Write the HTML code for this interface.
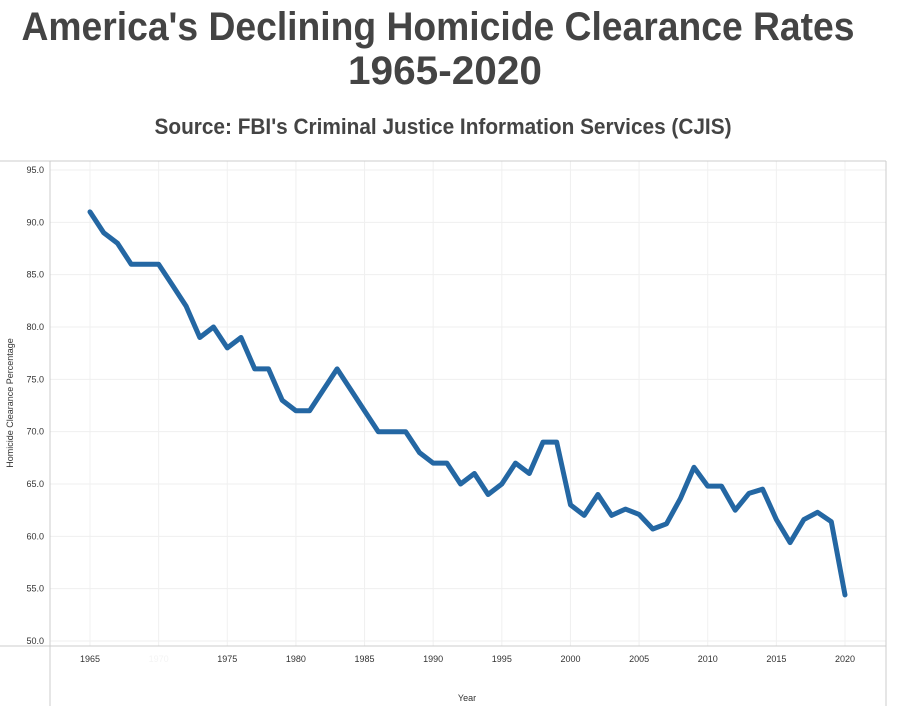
<!DOCTYPE html>
<html><head><meta charset="utf-8"><style>body{margin:0;background:#fff}svg{display:block}</style></head>
<body>
<svg id="chart" width="897" height="715" xmlns="http://www.w3.org/2000/svg" font-family="Liberation Sans, sans-serif">
<text x="438" y="40" text-anchor="middle" font-size="40" font-weight="bold" fill="#444" textLength="833" lengthAdjust="spacingAndGlyphs">America's Declining Homicide Clearance Rates</text>
<text x="445" y="84" text-anchor="middle" font-size="40" font-weight="bold" fill="#444" textLength="194" lengthAdjust="spacingAndGlyphs">1965-2020</text>
<text x="443" y="134" text-anchor="middle" font-size="22" font-weight="bold" fill="#444" textLength="577" lengthAdjust="spacingAndGlyphs">Source: FBI's Criminal Justice Information Services (CJIS)</text>
<g id="grid"></g>
<line x1="0" y1="161" x2="886" y2="161" stroke="#ccc"/>
<line x1="0" y1="646" x2="886" y2="646" stroke="#ccc"/>
<line x1="50" y1="161" x2="50" y2="706" stroke="#ccc"/>
<line x1="886" y1="161" x2="886" y2="706" stroke="#ccc"/>
<text transform="translate(13,403) rotate(-90)" text-anchor="middle" font-size="9" fill="#333">Homicide Clearance Percentage</text>
<text x="467" y="701" text-anchor="middle" font-size="9" fill="#333">Year</text>
<g id="ticks"></g>
<g id="series"></g>
</svg>
<script>
const years=[1965,1966,1967,1968,1969,1970,1971,1972,1973,1974,1975,1976,1977,1978,1979,1980,1981,1982,1983,1984,1985,1986,1987,1988,1989,1990,1991,1992,1993,1994,1995,1996,1997,1998,1999,2000,2001,2002,2003,2004,2005,2006,2007,2008,2009,2010,2011,2012,2013,2014,2015,2016,2017,2018,2019,2020];
const rates=[91,89,88,86,86,86,84,82,79,80,78,79,76,76,73,72,72,74,76,74,72,70,70,70,68,67,67,65,66,64,65,67,66,69,69,63,62,64,62,62.6,62.1,60.7,61.2,63.6,66.6,64.8,64.8,62.5,64.1,64.5,61.6,59.4,61.6,62.3,61.4,54.4];
const yTicks=[50,55,60,65,70,75,80,85,90,95];
const xTicks=[1965,1970,1975,1980,1985,1990,1995,2000,2005,2010,2015,2020];
const NS='http://www.w3.org/2000/svg';
function xs(v){return 90+(v-1965)*(845-90)/55;}
function ys(v){return 641-(v-50)*(641-170)/45;}
function mk(t,a,p){const e=document.createElementNS(NS,t);for(const k in a)e.setAttribute(k,a[k]);p.appendChild(e);return e;}
const grid=document.getElementById('grid'),ticks=document.getElementById('ticks'),series=document.getElementById('series');
yTicks.forEach(v=>{
  const l=mk('line',{x1:50,x2:886,y1:ys(v),y2:ys(v),stroke:'#efefef'},grid);
  
  
  const t=mk('text',{x:44,y:ys(v)+3,'text-anchor':'end','font-size':9,fill:'#333'},ticks);
  t.textContent=v.toFixed(1);
  
  
});
xTicks.forEach(v=>{
  const l=mk('line',{x1:xs(v),x2:xs(v),y1:161,y2:646,stroke:'#f0f0f0'},grid);
  
  
  const t=mk('text',{x:xs(v),y:662,'text-anchor':'middle','font-size':9,fill:v===1970?'#f4f4f4':'#333'},ticks);
  t.textContent=v;
  
  
});
const d=years.map((y,i)=>(i?'L':'M')+xs(y).toFixed(1)+','+ys(rates[i]).toFixed(1)).join(' ');
const p=mk('path',{d:d,fill:'none',stroke:'#2467a3','stroke-width':5,'stroke-linejoin':'round','stroke-linecap':'round'},series);


</script>
</body></html>
